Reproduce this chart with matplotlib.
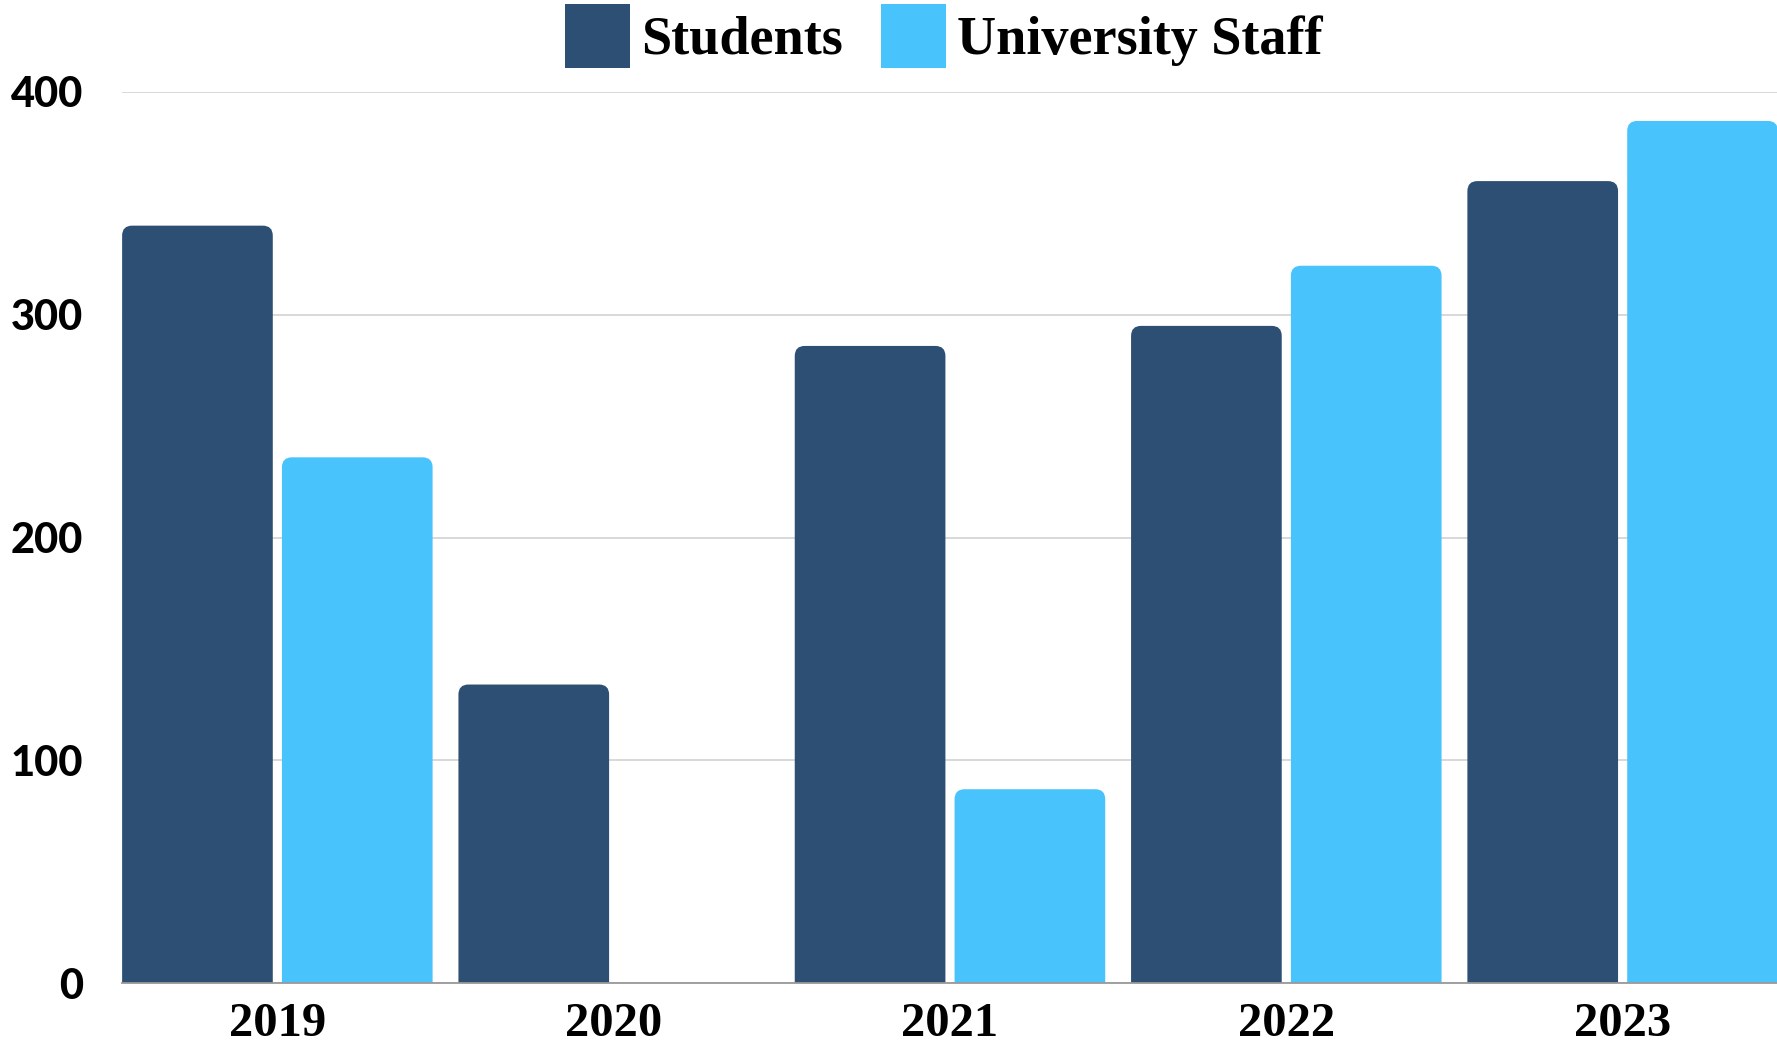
import numpy as np
import matplotlib
matplotlib.use("Agg")
import matplotlib.pyplot as plt
from matplotlib.patches import FancyBboxPatch, Patch

years = ["2019", "2020", "2021", "2022", "2023"]
students = [340, 134, 286, 295, 360]
staff = [236, 0, 87, 322, 387]
series_names = ["Students", "University Staff"]
yticks = [0, 100, 200, 300, 400]

dark = "#2D4F73"
light = "#49C3FC"

fig = plt.figure(figsize=(17.77, 10.49), dpi=100)
ax = fig.add_axes([0.0687, 0.0629, 0.9313, 0.8494])

x = np.arange(len(years))
w = 0.448
off = 0.2376
ax.set_xlim(-0.4617, 4.459)
ax.set_ylim(0, 400)

# rounded top corners, bottom hidden below y=0
fig.canvas.draw()
bb = ax.get_window_extent()
xpp = (4.459 + 0.4617) / bb.width
ypp = 400 / bb.height
r_px = 10
for vals, offset, col in [(students, -off, dark), (staff, off, light)]:
    for xi, v in zip(x, vals):
        if v <= 0:
            continue
        p = FancyBboxPatch((xi + offset - w / 2, -20), w, v + 20,
                           boxstyle=f"round,pad=0,rounding_size={r_px * xpp}",
                           mutation_aspect=ypp / xpp,
                           facecolor=col, edgecolor="none", zorder=3)
        ax.add_patch(p)

ax.set_yticks(yticks)
ax.set_yticklabels([str(t) for t in yticks], fontfamily="Lato", fontweight=900, fontsize=30)
ax.set_xticks(x)
ax.set_xticklabels(years, fontfamily="Liberation Serif", fontweight="bold", fontsize=35)
ax.tick_params(axis="y", length=0, pad=28)
ax.tick_params(axis="x", length=0, pad=14)
ax.grid(axis="y", color="#d6d6d6", linewidth=1.3, zorder=0)
for s in ["top", "right", "left"]:
    ax.spines[s].set_visible(False)
ax.spines["bottom"].set_color("#999999")
ax.spines["bottom"].set_linewidth(1.3)
ax.spines["bottom"].set_zorder(4)

handles = [Patch(facecolor=dark, edgecolor="none"), Patch(facecolor=light, edgecolor="none")]
fig.legend(handles, series_names, loc="center", bbox_to_anchor=(0.531, 0.966), ncol=2,
           frameon=False, prop={"family": "Liberation Serif", "weight": "bold", "size": 39},
           handlelength=1.21, handleheight=1.44, handletextpad=0.2, columnspacing=0.7,
           borderpad=0)

fig.savefig("out.png", dpi=100)
